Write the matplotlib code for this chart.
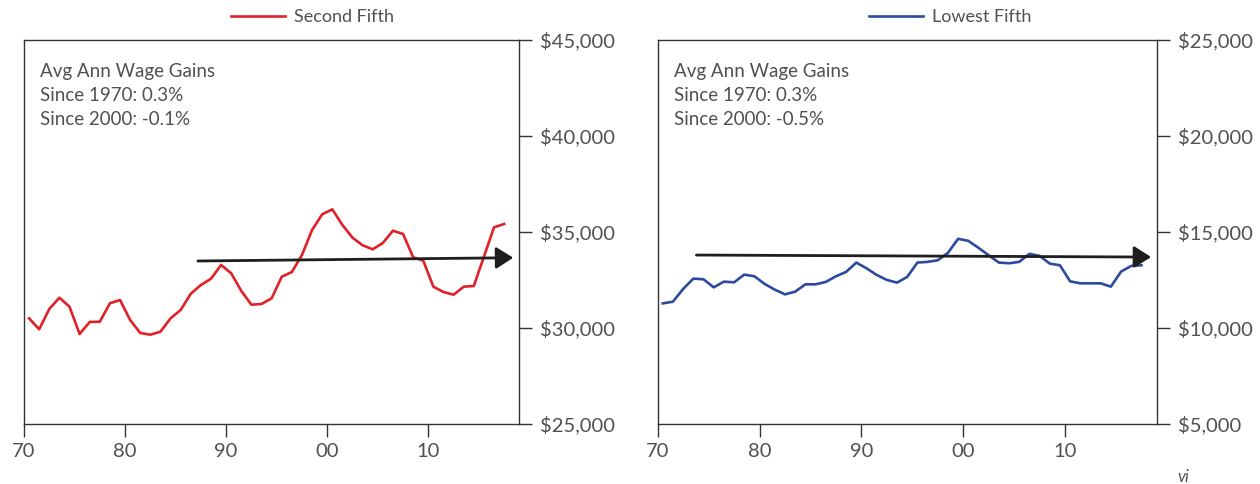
import matplotlib
matplotlib.use("Agg")
import matplotlib.pyplot as plt
from matplotlib.ticker import FuncFormatter

years = list(range(1970, 2018))
second_fifth = [30505, 29932, 30990, 31578, 31109, 29688, 30313, 30328, 31286, 31458,
                30417, 29740, 29651, 29807, 30505, 30938, 31786, 32240, 32568, 33281,
                32849, 31927, 31214, 31250, 31547, 32672, 32917, 33802, 35104, 35922,
                36182, 35365, 34703, 34307, 34099, 34427, 35068, 34896, 33682, 33505,
                32151, 31875, 31734, 32151, 32188, 33714, 35245, 35417]
lowest_fifth = [11283, 11371, 12034, 12572, 12536, 12118, 12415, 12379, 12781, 12692,
                12295, 11997, 11752, 11893, 12274, 12274, 12399, 12692, 12922, 13407,
                13111, 12765, 12504, 12363, 12660, 13407, 13444, 13528, 13914, 14645,
                14540, 14175, 13789, 13407, 13371, 13444, 13862, 13757, 13355, 13266,
                12431, 12327, 12327, 12327, 12154, 12937, 13235, 13266]
x_ticks = [1970, 1980, 1990, 2000, 2010]
x_tick_labels = ["70", "80", "90", "00", "10"]
left_yticks = [25000, 30000, 35000, 40000, 45000]
right_yticks = [5000, 10000, 15000, 20000, 25000]
left_arrow = [(1987.2, 33490), (2018.4, 33660)]
right_arrow = [(1973.8, 13800), (2018.45, 13695)]
left_note = "Avg Ann Wage Gains\nSince 1970: 0.3%\nSince 2000: -0.1%"
right_note = "Avg Ann Wage Gains\nSince 1970: 0.3%\nSince 2000: -0.5%"

plt.rcParams['font.family'] = ['Lato', 'DejaVu Sans']
TXT = '#505050'
SP = '#333333'

fig = plt.figure(figsize=(12.6, 4.84), dpi=100)
axL = fig.add_axes([24/1260, 60/484, 495.3/1260, 384/484])
axR = fig.add_axes([657.7/1260, 60/484, 499/1260, 384/484])

def style(ax, yticks, ylim, series, color, label, arrow, note, legx):
    xs = [y + 0.5 for y in years]  # annual values plotted at mid-year
    ax.plot(xs, series, color=color, lw=1.9, label=label)
    ax.set_xlim(1970, 2019)
    ax.set_ylim(*ylim)
    ax.set_xticks(x_ticks)
    ax.set_xticklabels(x_tick_labels)
    ax.set_yticks(yticks)
    ax.yaxis.set_major_formatter(FuncFormatter(lambda v, p: "${:,.0f}".format(v)))
    ax.yaxis.tick_right()
    ax.tick_params(axis='both', direction='out', length=9, width=1, color=SP,
                   labelsize=14.5, labelcolor=TXT, pad=6)
    ax.tick_params(axis='x', pad=5)
    for s in ax.spines.values():
        s.set_color(SP)
        s.set_linewidth(1)
    ax.annotate("", xy=arrow[1], xytext=arrow[0],
                arrowprops=dict(arrowstyle="-|>,head_length=0.52,head_width=0.33",
                                mutation_scale=20, lw=2.0, color='#1e1e1e',
                                shrinkA=0, shrinkB=0))
    ax.text(0.032, 0.94, note, transform=ax.transAxes, ha='left', va='top',
            fontsize=13.5, color=TXT, linespacing=1.5)
    leg = ax.legend(loc='center', bbox_to_anchor=(legx, 1.06), frameon=False,
                    fontsize=13, handlelength=3.0, handletextpad=0.5,
                    borderaxespad=0.0)
    for t in leg.get_texts():
        t.set_color(TXT)

style(axL, left_yticks, (25000, 45000), second_fifth, '#e02127', 'Second Fifth',
      left_arrow, left_note, 0.582)
style(axR, right_yticks, (5000, 25000), lowest_fifth, '#2c4a9f', 'Lowest Fifth',
      right_arrow, right_note, 0.586)

fig.text(1183/1260, 1 - 477/484, "vi", ha='center', va='center', fontsize=12,
         style='italic', color=TXT)

fig.savefig("out.png", dpi=100)
